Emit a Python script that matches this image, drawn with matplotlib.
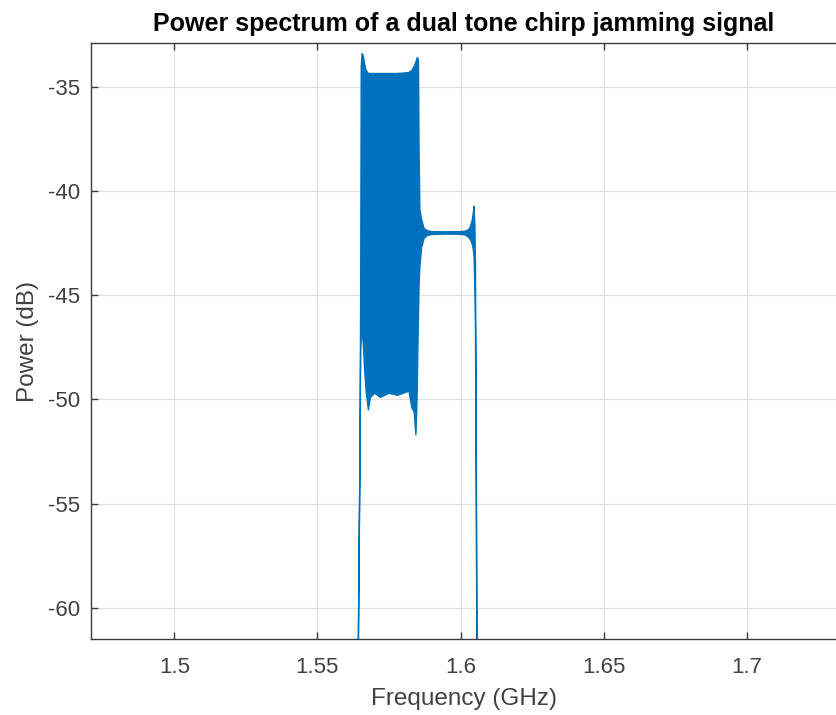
import matplotlib
matplotlib.use("Agg")
import matplotlib.pyplot as plt

# Envelope of the plotted spectrum
freq_ghz = [1.5600, 1.5642, 1.5643, 1.5646, 1.5649, 1.5651, 1.5653, 1.5656, 1.5660, 1.5665,
            1.5670, 1.5678, 1.5685, 1.5700, 1.5720, 1.5750, 1.5780, 1.5800, 1.5820, 1.5830,
            1.5838, 1.5844, 1.5848, 1.5851, 1.5853, 1.5855, 1.5858, 1.5864, 1.5873, 1.5885,
            1.5900, 1.5950, 1.6000, 1.6015, 1.6025, 1.6033, 1.6040, 1.6044, 1.6047, 1.6050,
            1.6052, 1.6055, 1.6057, 1.6058, 1.6100]
upper_db = [-75, -75, -61.5, -56.5, -52.0, -45.0, -34.0, -33.4, -33.5, -33.9,
            -34.2, -34.35, -34.35, -34.35, -34.35, -34.35, -34.35, -34.33, -34.3, -34.2,
            -34.0, -33.8, -33.6, -33.6, -33.8, -38.0, -40.9, -41.37, -41.80, -41.90,
            -41.94, -41.95, -41.94, -41.92, -41.87, -41.75, -41.45, -41.1, -40.73, -41.6,
            -43.5, -52.0, -61.5, -75, -75]
lower_db = [-75, -75, -62.0, -57.0, -52.5, -47.5, -46.9, -46.8, -47.3, -48.6,
            -49.6, -50.5, -49.9, -49.7, -49.9, -49.7, -49.8, -49.7, -49.6, -50.4,
            -50.6, -51.7, -50.0, -47.5, -46.0, -44.5, -43.6, -42.7, -42.25, -42.12,
            -42.08, -42.06, -42.07, -42.10, -42.18, -42.3, -42.5, -42.75, -43.13, -44.5,
            -46.5, -55.0, -62.0, -75, -75]

xticks = [1.5, 1.55, 1.6, 1.65, 1.7]
xticklabels = ["1.5", "1.55", "1.6", "1.65", "1.7"]
yticks = [-60, -55, -50, -45, -40, -35]
yticklabels = ["-60", "-55", "-50", "-45", "-40", "-35"]

plt.rcParams['font.family'] = ['Liberation Sans', 'DejaVu Sans']

W, H = 837, 715
fig = plt.figure(figsize=(W / 100, H / 100), dpi=100)
ax = fig.add_axes([91 / W, (H - 639) / H, 1.0 - 91 / W, (639 - 43.3) / H])

blue = '#0072BD'
ax.fill_between(freq_ghz, lower_db, upper_db, color=blue, edgecolor=blue, linewidth=1.0, zorder=3)

ax.set_xlim(1.4709, 1.7315)
ax.set_ylim(-61.5, -32.9)
ax.set_xticks(xticks)
ax.set_xticklabels(xticklabels)
ax.set_yticks(yticks)
ax.set_yticklabels(yticklabels)

ax.grid(True, color='#e0e0e0', linewidth=0.8, zorder=0)
ax.set_axisbelow(True)
for side in ['left', 'bottom', 'top']:
    ax.spines[side].set_color('#3a3a3a')
    ax.spines[side].set_linewidth(1.0)
ax.spines['right'].set_visible(False)
ax.tick_params(axis='both', direction='in', length=5, width=1.0, colors='#3a3a3a',
               labelcolor='#404040', labelsize=16, top=True, right=False)
ax.tick_params(axis='x', pad=13)
ax.tick_params(axis='y', pad=8)

ax.set_xlabel('Frequency (GHz)', fontsize=17.5, color='#404040', labelpad=7.5)
ax.set_ylabel('Power (dB)', fontsize=17.5, color='#404040', labelpad=6)
ax.set_title('Power spectrum of a dual tone chirp jamming signal', fontsize=18,
             fontweight='bold', color='black', pad=9)

fig.savefig('out.png', dpi=100)
